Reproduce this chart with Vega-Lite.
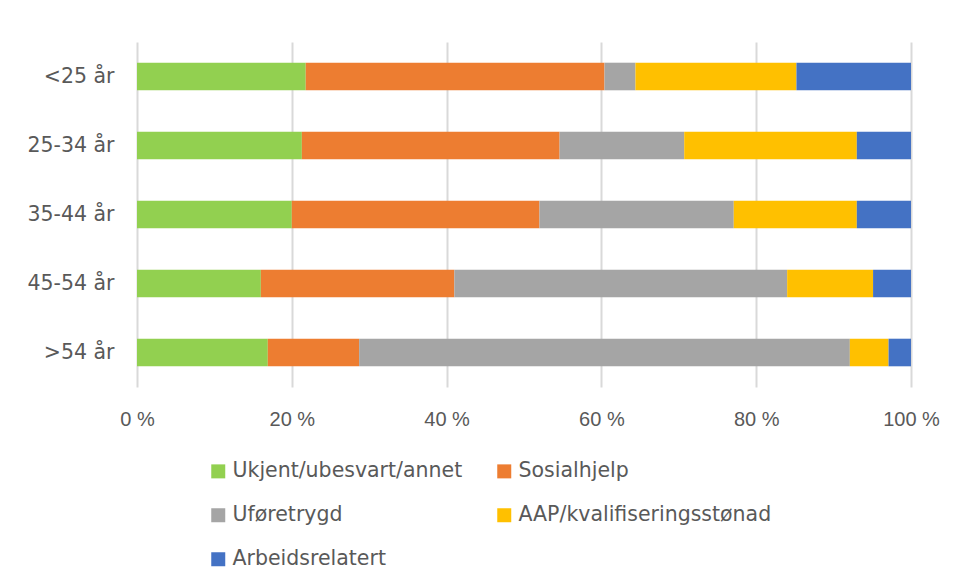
{
  "$schema": "https://vega.github.io/schema/vega-lite/v6.json",
  "autosize": {"type": "none"},
  "padding": {"left": 137, "top": 42, "right": 47, "bottom": 192},
  "width": 774,
  "height": 345,
  "background": "white",
  "data": {"values": [
    {"grp": "<25 år", "kat": "Ukjent/ubesvart/annet", "i": 1, "v": 21.8},
    {"grp": "<25 år", "kat": "Sosialhjelp", "i": 2, "v": 38.6},
    {"grp": "<25 år", "kat": "Uføretrygd", "i": 3, "v": 4.0},
    {"grp": "<25 år", "kat": "AAP/kvalifiseringsstønad", "i": 4, "v": 20.8},
    {"grp": "<25 år", "kat": "Arbeidsrelatert", "i": 5, "v": 14.8},
    {"grp": "25-34 år", "kat": "Ukjent/ubesvart/annet", "i": 1, "v": 21.3},
    {"grp": "25-34 år", "kat": "Sosialhjelp", "i": 2, "v": 33.3},
    {"grp": "25-34 år", "kat": "Uføretrygd", "i": 3, "v": 16.1},
    {"grp": "25-34 år", "kat": "AAP/kvalifiseringsstønad", "i": 4, "v": 22.3},
    {"grp": "25-34 år", "kat": "Arbeidsrelatert", "i": 5, "v": 7.0},
    {"grp": "35-44 år", "kat": "Ukjent/ubesvart/annet", "i": 1, "v": 20.0},
    {"grp": "35-44 år", "kat": "Sosialhjelp", "i": 2, "v": 32.0},
    {"grp": "35-44 år", "kat": "Uføretrygd", "i": 3, "v": 25.1},
    {"grp": "35-44 år", "kat": "AAP/kvalifiseringsstønad", "i": 4, "v": 15.9},
    {"grp": "35-44 år", "kat": "Arbeidsrelatert", "i": 5, "v": 7.0},
    {"grp": "45-54 år", "kat": "Ukjent/ubesvart/annet", "i": 1, "v": 16.0},
    {"grp": "45-54 år", "kat": "Sosialhjelp", "i": 2, "v": 25.0},
    {"grp": "45-54 år", "kat": "Uføretrygd", "i": 3, "v": 43.0},
    {"grp": "45-54 år", "kat": "AAP/kvalifiseringsstønad", "i": 4, "v": 11.1},
    {"grp": "45-54 år", "kat": "Arbeidsrelatert", "i": 5, "v": 4.9},
    {"grp": ">54 år", "kat": "Ukjent/ubesvart/annet", "i": 1, "v": 16.9},
    {"grp": ">54 år", "kat": "Sosialhjelp", "i": 2, "v": 11.8},
    {"grp": ">54 år", "kat": "Uføretrygd", "i": 3, "v": 63.4},
    {"grp": ">54 år", "kat": "AAP/kvalifiseringsstønad", "i": 4, "v": 5.0},
    {"grp": ">54 år", "kat": "Arbeidsrelatert", "i": 5, "v": 2.9}
  ]},
  "mark": {"type": "bar"},
  "encoding": {
    "y": {
      "field": "grp", "type": "nominal", "sort": null,
      "scale": {"paddingInner": 0.6, "paddingOuter": 0.3},
      "axis": {
        "title": null, "domain": false, "ticks": false, "grid": false,
        "labelFont": "DejaVu Sans", "labelFontSize": 20.5, "labelColor": "#595959",
        "labelPadding": 23
      }
    },
    "x": {
      "field": "v", "type": "quantitative", "stack": "zero",
      "scale": {"domain": [0, 100], "nice": false},
      "axis": {
        "title": null, "domain": false, "ticks": false,
        "values": [0, 20, 40, 60, 80, 100],
        "labelExpr": "datum.value + ' %'",
        "labelFlush": false, "labelAlign": "center",
        "labelFont": "Liberation Sans", "labelFontSize": 20, "labelColor": "#595959",
        "labelPadding": 22,
        "grid": true, "gridColor": "#d9d9d9", "gridWidth": 2
      }
    },
    "color": {
      "field": "kat", "type": "nominal",
      "scale": {
        "domain": ["Ukjent/ubesvart/annet", "Sosialhjelp", "Uføretrygd", "AAP/kvalifiseringsstønad", "Arbeidsrelatert"],
        "range": ["#92d050", "#ed7d31", "#a5a5a5", "#ffc000", "#4472c4"]
      },
      "legend": {
        "title": null, "orient": "none", "legendX": 71, "legendY": 419,
        "direction": "horizontal",
        "columns": 2, "columnPadding": 31, "rowPadding": 23,
        "symbolType": "square", "symbolSize": 196, "symbolStrokeWidth": 0,
        "labelFont": "DejaVu Sans", "labelFontSize": 20.5, "labelColor": "#595959",
        "labelOffset": 4, "labelLimit": 400
      }
    },
    "order": {"field": "i", "type": "quantitative"}
  },
  "config": {"view": {"stroke": null}}
}
